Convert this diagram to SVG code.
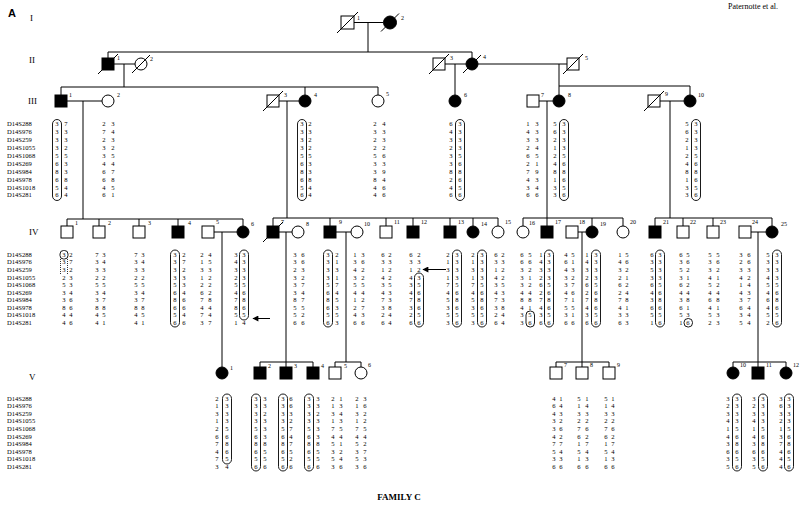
<svg xmlns="http://www.w3.org/2000/svg" width="800" height="511" viewBox="0 0 800 511">
<style>
.ln{stroke:#000;stroke-width:1;fill:none}
.sym{stroke:#000;stroke-width:1;fill:#fff}
.aff{fill:#000}
.box{fill:none;stroke:#000;stroke-width:0.9}
.dot{fill:none;stroke:#000;stroke-width:0.8;stroke-dasharray:1,1}
text{font-family:"Liberation Serif",serif;fill:#000}
.h{font-size:6.6px;text-anchor:middle}
.m{font-size:6.6px}
.n{font-size:6px}
.g{font-size:9px}
</style>
<defs>
<marker id="ah" viewBox="0 0 10 10" refX="9" refY="5" markerWidth="8" markerHeight="6" orient="auto"><path d="M0,0 L10,5 L0,10 z"/></marker>
</defs>
<rect width="800" height="511" fill="#fff"/>
<text x="8" y="17" style="font-family:'Liberation Sans',sans-serif;font-weight:bold;font-size:11px">A</text>
<text x="728" y="9" style="font-size:8px">Paternotte et al.</text>
<text class="g" x="30" y="21">I</text>
<text class="g" x="29" y="63">II</text>
<text class="g" x="28" y="104">III</text>
<text class="g" x="29" y="235">IV</text>
<text class="g" x="29" y="380">V</text>
<text x="399" y="500" style="font-size:9px;font-weight:bold;text-anchor:middle">FAMILY C</text>

<g id="markers">
<text class="m" x="7" y="126.3">D14S288</text><text class="m" x="7" y="134.2">D14S976</text><text class="m" x="7" y="142.1">D14S259</text><text class="m" x="7" y="150">D14S1055</text><text class="m" x="7" y="157.9">D14S1068</text><text class="m" x="7" y="165.8">D14S269</text><text class="m" x="7" y="173.7">D14S984</text><text class="m" x="7" y="181.6">D14S978</text><text class="m" x="7" y="189.5">D14S1018</text><text class="m" x="7" y="197.4">D14S281</text>
<text class="m" x="7" y="256.8">D14S288</text><text class="m" x="7" y="264.4">D14S976</text><text class="m" x="7" y="271.9">D14S259</text><text class="m" x="7" y="279.5">D14S1055</text><text class="m" x="7" y="287">D14S1068</text><text class="m" x="7" y="294.6">D14S269</text><text class="m" x="7" y="302.1">D14S984</text><text class="m" x="7" y="309.7">D14S978</text><text class="m" x="7" y="317.2">D14S1018</text><text class="m" x="7" y="324.8">D14S281</text>
<text class="m" x="7" y="400.5">D14S288</text><text class="m" x="7" y="408.1">D14S976</text><text class="m" x="7" y="415.7">D14S259</text><text class="m" x="7" y="423.3">D14S1055</text><text class="m" x="7" y="430.9">D14S1068</text><text class="m" x="7" y="438.5">D14S269</text><text class="m" x="7" y="446.1">D14S984</text><text class="m" x="7" y="453.7">D14S978</text><text class="m" x="7" y="461.3">D14S1018</text><text class="m" x="7" y="468.9">D14S281</text>
</g>

<g id="connectors">
<path class="ln" d="M354,22.5H383.5M368,22.5V52M108,52H472M108,52V58M472,52V58"/>
<path class="ln" d="M114,64H135M124,64V87M61,87H378M61,87V95M305,87V95M378,87V95"/>
<path class="ln" d="M445,64H466M455,64V95M478,64H567M559,64V95M559,86H690V95"/>
<path class="ln" d="M67,101H102M83,101V219M279,101H299M287,101V218M539,101H553M547,101V226M660,101H684M670,101V218"/>
<path class="ln" d="M67,219H243M67,219V226M99,219V226M139,219V226M178,219V226M243,219V226"/>
<path class="ln" d="M273,218H498M273,218V226M330,218V226M386,218V226M413,218V226M450,218V226M473,218V226M498,218V226"/>
<path class="ln" d="M523,218H623M523,218V226M592,218V226M623,218V226"/>
<path class="ln" d="M655,218H772M655,218V226M683,218V226M713,218V226M772,218V226"/>
<path class="ln" d="M214,232H237M222,232V367M279,232H292M286,232V367M336,232H351M346,232V362M578,232H586M582,232V367M751,232H766M758,232V367"/>
<path class="ln" d="M260,362H313M260,362V367M313,362V367M335,362H361M335,362V367M361,362V367M556,362H609M556,362V367M609,362V367M733,362H786M733,362V367M786,362V367"/>
<line class="ln" x1="270" y1="318.5" x2="253" y2="318.5" marker-end="url(#ah)"/>
<line class="ln" x1="446" y1="269.5" x2="423" y2="269.5" marker-end="url(#ah)"/>
</g>

<g id="I-1"><rect class="sym" x="341" y="16" width="13" height="13"/><line class="ln" x1="337" y1="33" x2="358" y2="12"/><text class="n" x="357" y="20">1</text></g>
<g id="I-2"><circle class="sym aff" cx="390" cy="22.5" r="6.5"/><line class="ln" x1="381" y1="31.5" x2="399" y2="13.5"/><text class="n" x="401" y="20">2</text></g>

<g id="II-1"><rect class="sym aff" x="102" y="58" width="12" height="12"/><line class="ln" x1="98" y1="74" x2="118" y2="54"/><text class="n" x="117" y="60">1</text></g>
<g id="II-2"><circle class="sym" cx="141" cy="64" r="6"/><line class="ln" x1="132" y1="73" x2="150" y2="55"/><text class="n" x="150" y="61">2</text></g>
<g id="II-3"><rect class="sym" x="433" y="58" width="12" height="12"/><line class="ln" x1="429" y1="74" x2="449" y2="54"/><text class="n" x="450" y="60">3</text></g>
<g id="II-4"><circle class="sym aff" cx="472" cy="64" r="6"/><line class="ln" x1="463" y1="73" x2="481" y2="55"/><text class="n" x="483" y="59">4</text></g>
<g id="II-5"><rect class="sym" x="567" y="58" width="12" height="12"/><line class="ln" x1="563" y1="74" x2="583" y2="54"/><text class="n" x="585" y="60">5</text></g>

<g id="III-1"><rect class="sym aff" x="55" y="95" width="12" height="12"/><text class="n" x="69" y="97">1</text>
<rect class="box" x="52.5" y="119.5" width="9" height="81" rx="4.5"/>
<text class="h" x="57 66" y="126.3">37</text><text class="h" x="57 66" y="134.2">33</text><text class="h" x="57 66" y="142.1">33</text><text class="h" x="57 66" y="150">32</text><text class="h" x="57 66" y="157.9">55</text><text class="h" x="57 66" y="165.8">63</text><text class="h" x="57 66" y="173.7">83</text><text class="h" x="57 66" y="181.6">68</text><text class="h" x="57 66" y="189.5">54</text><text class="h" x="57 66" y="197.4">64</text></g>
<g id="III-2"><circle class="sym" cx="108" cy="101" r="6"/><text class="n" x="117" y="97">2</text>
<text class="h" x="104 113" y="126.3">23</text><text class="h" x="104 113" y="134.2">74</text><text class="h" x="104 113" y="142.1">23</text><text class="h" x="104 113" y="150">32</text><text class="h" x="104 113" y="157.9">35</text><text class="h" x="104 113" y="165.8">44</text><text class="h" x="104 113" y="173.7">67</text><text class="h" x="104 113" y="181.6">68</text><text class="h" x="104 113" y="189.5">45</text><text class="h" x="104 113" y="197.4">61</text></g>
<g id="III-3"><rect class="sym" x="267" y="95" width="12" height="12"/><line class="ln" x1="263" y1="111" x2="283" y2="91"/><text class="n" x="284" y="97">3</text></g>
<g id="III-4"><circle class="sym aff" cx="305" cy="101" r="6"/><text class="n" x="314" y="97">4</text>
<rect class="box" x="297.5" y="119.5" width="9" height="81" rx="4.5"/>
<text class="h" x="302 310" y="126.3">32</text><text class="h" x="302 310" y="134.2">33</text><text class="h" x="302 310" y="142.1">32</text><text class="h" x="302 310" y="150">32</text><text class="h" x="302 310" y="157.9">55</text><text class="h" x="302 310" y="165.8">63</text><text class="h" x="302 310" y="173.7">83</text><text class="h" x="302 310" y="181.6">68</text><text class="h" x="302 310" y="189.5">54</text><text class="h" x="302 310" y="197.4">64</text></g>
<g id="III-5"><circle class="sym" cx="378" cy="101" r="6"/><text class="n" x="386" y="96">5</text>
<text class="h" x="375 384" y="126.3">24</text><text class="h" x="375 384" y="134.2">33</text><text class="h" x="375 384" y="142.1">23</text><text class="h" x="375 384" y="150">22</text><text class="h" x="375 384" y="157.9">56</text><text class="h" x="375 384" y="165.8">33</text><text class="h" x="375 384" y="173.7">39</text><text class="h" x="375 384" y="181.6">84</text><text class="h" x="375 384" y="189.5">46</text><text class="h" x="375 384" y="197.4">46</text></g>
<g id="III-6"><circle class="sym aff" cx="455" cy="101" r="6"/><text class="n" x="464" y="97">6</text>
<rect class="box" x="455.5" y="119.5" width="9" height="81" rx="4.5"/>
<text class="h" x="451 460" y="126.3">63</text><text class="h" x="451 460" y="134.2">43</text><text class="h" x="451 460" y="142.1">33</text><text class="h" x="451 460" y="150">23</text><text class="h" x="451 460" y="157.9">35</text><text class="h" x="451 460" y="165.8">36</text><text class="h" x="451 460" y="173.7">88</text><text class="h" x="451 460" y="181.6">26</text><text class="h" x="451 460" y="189.5">45</text><text class="h" x="451 460" y="197.4">66</text></g>
<g id="III-7"><rect class="sym" x="527" y="95" width="12" height="12"/><text class="n" x="541" y="97">7</text>
<text class="h" x="528 537" y="126.3">13</text><text class="h" x="528 537" y="134.2">43</text><text class="h" x="528 537" y="142.1">33</text><text class="h" x="528 537" y="150">24</text><text class="h" x="528 537" y="157.9">65</text><text class="h" x="528 537" y="165.8">21</text><text class="h" x="528 537" y="173.7">79</text><text class="h" x="528 537" y="181.6">43</text><text class="h" x="528 537" y="189.5">34</text><text class="h" x="528 537" y="197.4">66</text></g>
<g id="III-8"><circle class="sym aff" cx="559" cy="101" r="6"/><text class="n" x="568" y="97">8</text>
<rect class="box" x="559.5" y="119.5" width="9" height="81" rx="4.5"/>
<text class="h" x="555 564" y="126.3">53</text><text class="h" x="555 564" y="134.2">63</text><text class="h" x="555 564" y="142.1">23</text><text class="h" x="555 564" y="150">13</text><text class="h" x="555 564" y="157.9">25</text><text class="h" x="555 564" y="165.8">46</text><text class="h" x="555 564" y="173.7">88</text><text class="h" x="555 564" y="181.6">16</text><text class="h" x="555 564" y="189.5">35</text><text class="h" x="555 564" y="197.4">36</text></g>
<g id="III-9"><rect class="sym" x="648" y="95" width="12" height="12"/><line class="ln" x1="644" y1="111" x2="664" y2="91"/><text class="n" x="665" y="96">9</text></g>
<g id="III-10"><circle class="sym aff" cx="690" cy="101" r="6"/><text class="n" x="698" y="97">10</text>
<rect class="box" x="691.5" y="119.5" width="9" height="81" rx="4.5"/>
<text class="h" x="687 696" y="126.3">53</text><text class="h" x="687 696" y="134.2">63</text><text class="h" x="687 696" y="142.1">23</text><text class="h" x="687 696" y="150">13</text><text class="h" x="687 696" y="157.9">25</text><text class="h" x="687 696" y="165.8">46</text><text class="h" x="687 696" y="173.7">88</text><text class="h" x="687 696" y="181.6">16</text><text class="h" x="687 696" y="189.5">35</text><text class="h" x="687 696" y="197.4">36</text></g>

<g id="IV-1"><rect class="sym" x="61" y="226" width="12" height="12"/><text class="n" x="75" y="225">1</text>
<rect class="box" x="60" y="250.5" width="8" height="8.5" rx="3.5"/><path class="dot" d="M60.5,259V274M67.5,259V274"/>
<text class="h" x="64 71" y="256.8">32</text><text class="h" x="64 71" y="264.4">37</text><text class="h" x="64 71" y="271.9">32</text><text class="h" x="64 71" y="279.5">23</text><text class="h" x="64 71" y="287">53</text><text class="h" x="64 71" y="294.6">34</text><text class="h" x="64 71" y="302.1">36</text><text class="h" x="64 71" y="309.7">86</text><text class="h" x="64 71" y="317.2">44</text><text class="h" x="64 71" y="324.8">46</text></g>
<g id="IV-2"><rect class="sym" x="93" y="226" width="12" height="12"/><text class="n" x="108" y="225">2</text>
<text class="h" x="97 104" y="256.8">73</text><text class="h" x="97 104" y="264.4">34</text><text class="h" x="97 104" y="271.9">33</text><text class="h" x="97 104" y="279.5">22</text><text class="h" x="97 104" y="287">55</text><text class="h" x="97 104" y="294.6">34</text><text class="h" x="97 104" y="302.1">37</text><text class="h" x="97 104" y="309.7">88</text><text class="h" x="97 104" y="317.2">45</text><text class="h" x="97 104" y="324.8">41</text></g>
<g id="IV-3"><rect class="sym" x="133" y="226" width="12" height="12"/><text class="n" x="148" y="225">3</text>
<text class="h" x="136 143" y="256.8">73</text><text class="h" x="136 143" y="264.4">34</text><text class="h" x="136 143" y="271.9">33</text><text class="h" x="136 143" y="279.5">22</text><text class="h" x="136 143" y="287">55</text><text class="h" x="136 143" y="294.6">34</text><text class="h" x="136 143" y="302.1">37</text><text class="h" x="136 143" y="309.7">88</text><text class="h" x="136 143" y="317.2">45</text><text class="h" x="136 143" y="324.8">41</text></g>
<g id="IV-4"><rect class="sym aff" x="172" y="226" width="12" height="12"/><text class="n" x="188" y="225">4</text>
<rect class="box" x="170.5" y="250" width="9" height="77" rx="4.5"/>
<text class="h" x="175 184" y="256.8">32</text><text class="h" x="175 184" y="264.4">37</text><text class="h" x="175 184" y="271.9">32</text><text class="h" x="175 184" y="279.5">33</text><text class="h" x="175 184" y="287">53</text><text class="h" x="175 184" y="294.6">64</text><text class="h" x="175 184" y="302.1">86</text><text class="h" x="175 184" y="309.7">66</text><text class="h" x="175 184" y="317.2">54</text><text class="h" x="175 184" y="324.8">66</text></g>
<g id="IV-5"><rect class="sym" x="202" y="226" width="12" height="12"/><text class="n" x="216" y="224">5</text>
<text class="h" x="202 210" y="256.8">24</text><text class="h" x="202 210" y="264.4">15</text><text class="h" x="202 210" y="271.9">33</text><text class="h" x="202 210" y="279.5">12</text><text class="h" x="202 210" y="287">22</text><text class="h" x="202 210" y="294.6">62</text><text class="h" x="202 210" y="302.1">78</text><text class="h" x="202 210" y="309.7">44</text><text class="h" x="202 210" y="317.2">74</text><text class="h" x="202 210" y="324.8">37</text></g>
<g id="IV-6"><circle class="sym aff" cx="243" cy="232" r="6"/><text class="n" x="251" y="226">6</text>
<rect class="box" x="239.5" y="250" width="9" height="70" rx="4.5"/>
<text class="h" x="236 244" y="256.8">33</text><text class="h" x="236 244" y="264.4">43</text><text class="h" x="236 244" y="271.9">33</text><text class="h" x="236 244" y="279.5">23</text><text class="h" x="236 244" y="287">55</text><text class="h" x="236 244" y="294.6">46</text><text class="h" x="236 244" y="302.1">78</text><text class="h" x="236 244" y="309.7">86</text><text class="h" x="236 244" y="317.2">55</text><text class="h" x="236 244" y="324.8">14</text></g>
<g id="IV-7"><rect class="sym aff" x="267" y="226" width="12" height="12"/><line class="ln" x1="263" y1="242" x2="283" y2="222"/><text class="n" x="281" y="224">7</text>
<text class="h" x="295 303" y="256.8">36</text><text class="h" x="295 303" y="264.4">36</text><text class="h" x="295 303" y="271.9">23</text><text class="h" x="295 303" y="279.5">32</text><text class="h" x="295 303" y="287">37</text><text class="h" x="295 303" y="294.6">34</text><text class="h" x="295 303" y="302.1">87</text><text class="h" x="295 303" y="309.7">55</text><text class="h" x="295 303" y="317.2">52</text><text class="h" x="295 303" y="324.8">66</text></g>
<g id="IV-8"><circle class="sym" cx="298" cy="232" r="6"/><text class="n" x="306" y="226">8</text></g>
<g id="IV-9"><rect class="sym aff" x="324" y="226" width="12" height="12"/><text class="n" x="339" y="224">9</text>
<rect class="box" x="323.5" y="250" width="9" height="77" rx="4.5"/>
<text class="h" x="328 337" y="256.8">32</text><text class="h" x="328 337" y="264.4">31</text><text class="h" x="328 337" y="271.9">33</text><text class="h" x="328 337" y="279.5">31</text><text class="h" x="328 337" y="287">57</text><text class="h" x="328 337" y="294.6">64</text><text class="h" x="328 337" y="302.1">85</text><text class="h" x="328 337" y="309.7">63</text><text class="h" x="328 337" y="317.2">55</text><text class="h" x="328 337" y="324.8">63</text></g>
<g id="IV-10"><circle class="sym" cx="357" cy="232" r="6"/><text class="n" x="364" y="226">10</text>
<text class="h" x="355 363" y="256.8">13</text><text class="h" x="355 363" y="264.4">36</text><text class="h" x="355 363" y="271.9">42</text><text class="h" x="355 363" y="279.5">32</text><text class="h" x="355 363" y="287">55</text><text class="h" x="355 363" y="294.6">44</text><text class="h" x="355 363" y="302.1">12</text><text class="h" x="355 363" y="309.7">27</text><text class="h" x="355 363" y="317.2">43</text><text class="h" x="355 363" y="324.8">66</text></g>
<g id="IV-11"><rect class="sym" x="380" y="226" width="12" height="12"/><text class="n" x="394" y="224">11</text>
<text class="h" x="383 390" y="256.8">62</text><text class="h" x="383 390" y="264.4">33</text><text class="h" x="383 390" y="271.9">12</text><text class="h" x="383 390" y="279.5">42</text><text class="h" x="383 390" y="287">35</text><text class="h" x="383 390" y="294.6">43</text><text class="h" x="383 390" y="302.1">73</text><text class="h" x="383 390" y="309.7">38</text><text class="h" x="383 390" y="317.2">24</text><text class="h" x="383 390" y="324.8">64</text></g>
<g id="IV-12"><rect class="sym aff" x="407" y="226" width="12" height="12"/><text class="n" x="421" y="224">12</text>
<rect class="box" x="414.5" y="273" width="9" height="54" rx="4.5"/>
<text class="h" x="411 419" y="256.8">62</text><text class="h" x="411 419" y="264.4">33</text><text class="h" x="411 419" y="271.9">12</text><text class="h" x="411 419" y="279.5">43</text><text class="h" x="411 419" y="287">35</text><text class="h" x="411 419" y="294.6">46</text><text class="h" x="411 419" y="302.1">78</text><text class="h" x="411 419" y="309.7">36</text><text class="h" x="411 419" y="317.2">25</text><text class="h" x="411 419" y="324.8">66</text></g>
<g id="IV-13"><rect class="sym aff" x="444" y="226" width="12" height="12"/><text class="n" x="458" y="224">13</text>
<rect class="box" x="452.5" y="250" width="9" height="77" rx="4.5"/>
<text class="h" x="448 457" y="256.8">23</text><text class="h" x="448 457" y="264.4">13</text><text class="h" x="448 457" y="271.9">33</text><text class="h" x="448 457" y="279.5">13</text><text class="h" x="448 457" y="287">75</text><text class="h" x="448 457" y="294.6">46</text><text class="h" x="448 457" y="302.1">58</text><text class="h" x="448 457" y="309.7">36</text><text class="h" x="448 457" y="317.2">55</text><text class="h" x="448 457" y="324.8">36</text></g>
<g id="IV-14"><circle class="sym aff" cx="473" cy="232" r="6"/><text class="n" x="481" y="226">14</text>
<rect class="box" x="477.5" y="250" width="9" height="77" rx="4.5"/>
<text class="h" x="473 482" y="256.8">23</text><text class="h" x="473 482" y="264.4">13</text><text class="h" x="473 482" y="271.9">33</text><text class="h" x="473 482" y="279.5">13</text><text class="h" x="473 482" y="287">75</text><text class="h" x="473 482" y="294.6">46</text><text class="h" x="473 482" y="302.1">58</text><text class="h" x="473 482" y="309.7">36</text><text class="h" x="473 482" y="317.2">55</text><text class="h" x="473 482" y="324.8">36</text></g>
<g id="IV-15"><circle class="sym" cx="498" cy="232" r="6"/><text class="n" x="505" y="224">15</text>
<text class="h" x="496 503" y="256.8">62</text><text class="h" x="496 503" y="264.4">33</text><text class="h" x="496 503" y="271.9">12</text><text class="h" x="496 503" y="279.5">42</text><text class="h" x="496 503" y="287">35</text><text class="h" x="496 503" y="294.6">43</text><text class="h" x="496 503" y="302.1">73</text><text class="h" x="496 503" y="309.7">38</text><text class="h" x="496 503" y="317.2">24</text><text class="h" x="496 503" y="324.8">64</text></g>
<g id="IV-16"><circle class="sym" cx="523" cy="232" r="6"/><text class="n" x="529" y="225">16</text>
<rect class="box" x="526" y="311" width="8.5" height="16" rx="4"/>
<text class="h" x="522 530" y="256.8">65</text><text class="h" x="522 530" y="264.4">66</text><text class="h" x="522 530" y="271.9">32</text><text class="h" x="522 530" y="279.5">31</text><text class="h" x="522 530" y="287">32</text><text class="h" x="522 530" y="294.6">44</text><text class="h" x="522 530" y="302.1">88</text><text class="h" x="522 530" y="309.7">41</text><text class="h" x="522 530" y="317.2">35</text><text class="h" x="522 530" y="324.8">36</text></g>
<g id="IV-17"><rect class="sym aff" x="541" y="226" width="12" height="12"/><text class="n" x="555" y="224">17</text>
<rect class="box" x="544.5" y="250" width="9" height="77" rx="4.5"/>
<text class="h" x="541 549" y="256.8">13</text><text class="h" x="541 549" y="264.4">43</text><text class="h" x="541 549" y="271.9">33</text><text class="h" x="541 549" y="279.5">23</text><text class="h" x="541 549" y="287">65</text><text class="h" x="541 549" y="294.6">26</text><text class="h" x="541 549" y="302.1">78</text><text class="h" x="541 549" y="309.7">46</text><text class="h" x="541 549" y="317.2">35</text><text class="h" x="541 549" y="324.8">66</text></g>
<g id="IV-18"><rect class="sym" x="566" y="226" width="12" height="12"/><text class="n" x="579" y="224">18</text>
<text class="h" x="566 573" y="256.8">45</text><text class="h" x="566 573" y="264.4">61</text><text class="h" x="566 573" y="271.9">43</text><text class="h" x="566 573" y="279.5">32</text><text class="h" x="566 573" y="287">37</text><text class="h" x="566 573" y="294.6">46</text><text class="h" x="566 573" y="302.1">71</text><text class="h" x="566 573" y="309.7">55</text><text class="h" x="566 573" y="317.2">31</text><text class="h" x="566 573" y="324.8">66</text></g>
<g id="IV-19"><circle class="sym aff" cx="592" cy="232" r="6"/><text class="n" x="600" y="226">19</text>
<rect class="box" x="591.5" y="250" width="9" height="77" rx="4.5"/>
<text class="h" x="587 596" y="256.8">13</text><text class="h" x="587 596" y="264.4">43</text><text class="h" x="587 596" y="271.9">33</text><text class="h" x="587 596" y="279.5">23</text><text class="h" x="587 596" y="287">65</text><text class="h" x="587 596" y="294.6">26</text><text class="h" x="587 596" y="302.1">78</text><text class="h" x="587 596" y="309.7">46</text><text class="h" x="587 596" y="317.2">35</text><text class="h" x="587 596" y="324.8">66</text></g>
<g id="IV-20"><circle class="sym" cx="623" cy="232" r="6"/><text class="n" x="630" y="224">20</text>
<text class="h" x="620 627" y="256.8">15</text><text class="h" x="620 627" y="264.4">46</text><text class="h" x="620 627" y="271.9">32</text><text class="h" x="620 627" y="279.5">21</text><text class="h" x="620 627" y="287">62</text><text class="h" x="620 627" y="294.6">24</text><text class="h" x="620 627" y="302.1">78</text><text class="h" x="620 627" y="309.7">41</text><text class="h" x="620 627" y="317.2">33</text><text class="h" x="620 627" y="324.8">63</text></g>
<g id="IV-21"><rect class="sym aff" x="649" y="226" width="12" height="12"/><text class="n" x="663" y="224">21</text>
<rect class="box" x="655.5" y="250" width="9" height="77" rx="4.5"/>
<text class="h" x="652 660" y="256.8">63</text><text class="h" x="652 660" y="264.4">33</text><text class="h" x="652 660" y="271.9">53</text><text class="h" x="652 660" y="279.5">33</text><text class="h" x="652 660" y="287">65</text><text class="h" x="652 660" y="294.6">46</text><text class="h" x="652 660" y="302.1">38</text><text class="h" x="652 660" y="309.7">66</text><text class="h" x="652 660" y="317.2">55</text><text class="h" x="652 660" y="324.8">16</text></g>
<g id="IV-22"><rect class="sym" x="677" y="226" width="12" height="12"/><text class="n" x="690" y="224">22</text>
<rect class="box" x="684" y="318.5" width="8.5" height="8.5" rx="4"/>
<text class="h" x="681 688" y="256.8">65</text><text class="h" x="681 688" y="264.4">36</text><text class="h" x="681 688" y="271.9">52</text><text class="h" x="681 688" y="279.5">31</text><text class="h" x="681 688" y="287">62</text><text class="h" x="681 688" y="294.6">44</text><text class="h" x="681 688" y="302.1">38</text><text class="h" x="681 688" y="309.7">61</text><text class="h" x="681 688" y="317.2">53</text><text class="h" x="681 688" y="324.8">16</text></g>
<g id="IV-23"><rect class="sym" x="707" y="226" width="12" height="12"/><text class="n" x="720" y="224">23</text>
<text class="h" x="710 718" y="256.8">55</text><text class="h" x="710 718" y="264.4">36</text><text class="h" x="710 718" y="271.9">32</text><text class="h" x="710 718" y="279.5">41</text><text class="h" x="710 718" y="287">52</text><text class="h" x="710 718" y="294.6">44</text><text class="h" x="710 718" y="302.1">68</text><text class="h" x="710 718" y="309.7">41</text><text class="h" x="710 718" y="317.2">53</text><text class="h" x="710 718" y="324.8">23</text></g>
<g id="IV-24"><rect class="sym" x="739" y="226" width="12" height="12"/><text class="n" x="752" y="224">24</text>
<text class="h" x="741 749" y="256.8">36</text><text class="h" x="741 749" y="264.4">26</text><text class="h" x="741 749" y="271.9">33</text><text class="h" x="741 749" y="279.5">42</text><text class="h" x="741 749" y="287">14</text><text class="h" x="741 749" y="294.6">43</text><text class="h" x="741 749" y="302.1">37</text><text class="h" x="741 749" y="309.7">64</text><text class="h" x="741 749" y="317.2">34</text><text class="h" x="741 749" y="324.8">54</text></g>
<g id="IV-25"><circle class="sym aff" cx="772" cy="232" r="6"/><text class="n" x="781" y="226">25</text>
<rect class="box" x="772.5" y="250" width="9" height="77" rx="4.5"/>
<text class="h" x="768 777" y="256.8">53</text><text class="h" x="768 777" y="264.4">33</text><text class="h" x="768 777" y="271.9">33</text><text class="h" x="768 777" y="279.5">43</text><text class="h" x="768 777" y="287">55</text><text class="h" x="768 777" y="294.6">46</text><text class="h" x="768 777" y="302.1">68</text><text class="h" x="768 777" y="309.7">46</text><text class="h" x="768 777" y="317.2">55</text><text class="h" x="768 777" y="324.8">26</text></g>

<g id="V-1"><circle class="sym aff" cx="222" cy="373" r="6"/><text class="n" x="230" y="370">1</text>
<rect class="box" x="222.5" y="394" width="9" height="70" rx="4.5"/>
<text class="h" x="217 227" y="400.5">23</text><text class="h" x="217 227" y="408.1">13</text><text class="h" x="217 227" y="415.7">33</text><text class="h" x="217 227" y="423.3">13</text><text class="h" x="217 227" y="430.9">25</text><text class="h" x="217 227" y="438.5">66</text><text class="h" x="217 227" y="446.1">78</text><text class="h" x="217 227" y="453.7">46</text><text class="h" x="217 227" y="461.3">75</text><text class="h" x="217 227" y="468.9">34</text></g>
<g id="V-2"><rect class="sym aff" x="254" y="367" width="12" height="12"/><text class="n" x="268" y="368">2</text>
<rect class="box" x="251.5" y="394" width="9" height="77" rx="4.5"/>
<text class="h" x="256 265" y="400.5">33</text><text class="h" x="256 265" y="408.1">33</text><text class="h" x="256 265" y="415.7">32</text><text class="h" x="256 265" y="423.3">33</text><text class="h" x="256 265" y="430.9">53</text><text class="h" x="256 265" y="438.5">63</text><text class="h" x="256 265" y="446.1">88</text><text class="h" x="256 265" y="453.7">65</text><text class="h" x="256 265" y="461.3">55</text><text class="h" x="256 265" y="468.9">66</text></g>
<g id="V-3"><rect class="sym aff" x="280" y="367" width="12" height="12"/><text class="n" x="294" y="368">3</text>
<rect class="box" x="278.5" y="394" width="9" height="77" rx="4.5"/>
<text class="h" x="283 291" y="400.5">36</text><text class="h" x="283 291" y="408.1">36</text><text class="h" x="283 291" y="415.7">33</text><text class="h" x="283 291" y="423.3">32</text><text class="h" x="283 291" y="430.9">57</text><text class="h" x="283 291" y="438.5">64</text><text class="h" x="283 291" y="446.1">87</text><text class="h" x="283 291" y="453.7">65</text><text class="h" x="283 291" y="461.3">52</text><text class="h" x="283 291" y="468.9">66</text></g>
<g id="V-4"><rect class="sym aff" x="307" y="367" width="12" height="12"/><text class="n" x="321" y="368">4</text>
<rect class="box" x="304.5" y="394" width="9" height="77" rx="4.5"/>
<text class="h" x="309 318" y="400.5">33</text><text class="h" x="309 318" y="408.1">33</text><text class="h" x="309 318" y="415.7">32</text><text class="h" x="309 318" y="423.3">33</text><text class="h" x="309 318" y="430.9">53</text><text class="h" x="309 318" y="438.5">63</text><text class="h" x="309 318" y="446.1">88</text><text class="h" x="309 318" y="453.7">65</text><text class="h" x="309 318" y="461.3">55</text><text class="h" x="309 318" y="468.9">66</text></g>
<g id="V-5"><rect class="sym" x="329" y="367" width="12" height="12"/><text class="n" x="344" y="368">5</text>
<text class="h" x="333 341" y="400.5">21</text><text class="h" x="333 341" y="408.1">13</text><text class="h" x="333 341" y="415.7">34</text><text class="h" x="333 341" y="423.3">13</text><text class="h" x="333 341" y="430.9">75</text><text class="h" x="333 341" y="438.5">44</text><text class="h" x="333 341" y="446.1">51</text><text class="h" x="333 341" y="453.7">32</text><text class="h" x="333 341" y="461.3">54</text><text class="h" x="333 341" y="468.9">36</text></g>
<g id="V-6"><circle class="sym" cx="361" cy="373" r="6"/><text class="n" x="368" y="367">6</text>
<text class="h" x="357 365" y="400.5">23</text><text class="h" x="357 365" y="408.1">16</text><text class="h" x="357 365" y="415.7">32</text><text class="h" x="357 365" y="423.3">12</text><text class="h" x="357 365" y="430.9">75</text><text class="h" x="357 365" y="438.5">44</text><text class="h" x="357 365" y="446.1">52</text><text class="h" x="357 365" y="453.7">37</text><text class="h" x="357 365" y="461.3">53</text><text class="h" x="357 365" y="468.9">36</text></g>
<g id="V-7"><rect class="sym" x="550" y="367" width="12" height="12"/><text class="n" x="564" y="367">7</text>
<text class="h" x="554 561" y="400.5">41</text><text class="h" x="554 561" y="408.1">64</text><text class="h" x="554 561" y="415.7">43</text><text class="h" x="554 561" y="423.3">32</text><text class="h" x="554 561" y="430.9">36</text><text class="h" x="554 561" y="438.5">42</text><text class="h" x="554 561" y="446.1">77</text><text class="h" x="554 561" y="453.7">54</text><text class="h" x="554 561" y="461.3">33</text><text class="h" x="554 561" y="468.9">66</text></g>
<g id="V-8"><rect class="sym" x="576" y="367" width="12" height="12"/><text class="n" x="590" y="367">8</text>
<text class="h" x="579 587" y="400.5">51</text><text class="h" x="579 587" y="408.1">14</text><text class="h" x="579 587" y="415.7">33</text><text class="h" x="579 587" y="423.3">22</text><text class="h" x="579 587" y="430.9">76</text><text class="h" x="579 587" y="438.5">62</text><text class="h" x="579 587" y="446.1">17</text><text class="h" x="579 587" y="453.7">54</text><text class="h" x="579 587" y="461.3">13</text><text class="h" x="579 587" y="468.9">66</text></g>
<g id="V-9"><rect class="sym" x="603" y="367" width="12" height="12"/><text class="n" x="617" y="367">9</text>
<text class="h" x="606 613" y="400.5">51</text><text class="h" x="606 613" y="408.1">14</text><text class="h" x="606 613" y="415.7">33</text><text class="h" x="606 613" y="423.3">22</text><text class="h" x="606 613" y="430.9">76</text><text class="h" x="606 613" y="438.5">62</text><text class="h" x="606 613" y="446.1">17</text><text class="h" x="606 613" y="453.7">54</text><text class="h" x="606 613" y="461.3">13</text><text class="h" x="606 613" y="468.9">66</text></g>
<g id="V-10"><circle class="sym aff" cx="733" cy="373" r="6"/><text class="n" x="740" y="367">10</text>
<rect class="box" x="732.5" y="394" width="9" height="77" rx="4.5"/>
<text class="h" x="728 737" y="400.5">33</text><text class="h" x="728 737" y="408.1">23</text><text class="h" x="728 737" y="415.7">33</text><text class="h" x="728 737" y="423.3">43</text><text class="h" x="728 737" y="430.9">15</text><text class="h" x="728 737" y="438.5">46</text><text class="h" x="728 737" y="446.1">38</text><text class="h" x="728 737" y="453.7">66</text><text class="h" x="728 737" y="461.3">35</text><text class="h" x="728 737" y="468.9">56</text></g>
<g id="V-11"><rect class="sym aff" x="752" y="367" width="12" height="12"/><text class="n" x="766" y="367">11</text>
<rect class="box" x="758.5" y="394" width="9" height="77" rx="4.5"/>
<text class="h" x="754 763" y="400.5">33</text><text class="h" x="754 763" y="408.1">23</text><text class="h" x="754 763" y="415.7">33</text><text class="h" x="754 763" y="423.3">43</text><text class="h" x="754 763" y="430.9">15</text><text class="h" x="754 763" y="438.5">46</text><text class="h" x="754 763" y="446.1">38</text><text class="h" x="754 763" y="453.7">66</text><text class="h" x="754 763" y="461.3">35</text><text class="h" x="754 763" y="468.9">56</text></g>
<g id="V-12"><circle class="sym aff" cx="786" cy="373" r="6"/><text class="n" x="793" y="367">12</text>
<rect class="box" x="784.5" y="394" width="9" height="77" rx="4.5"/>
<text class="h" x="781 789" y="400.5">33</text><text class="h" x="781 789" y="408.1">63</text><text class="h" x="781 789" y="415.7">33</text><text class="h" x="781 789" y="423.3">23</text><text class="h" x="781 789" y="430.9">15</text><text class="h" x="781 789" y="438.5">36</text><text class="h" x="781 789" y="446.1">78</text><text class="h" x="781 789" y="453.7">46</text><text class="h" x="781 789" y="461.3">45</text><text class="h" x="781 789" y="468.9">46</text></g>
</svg>
